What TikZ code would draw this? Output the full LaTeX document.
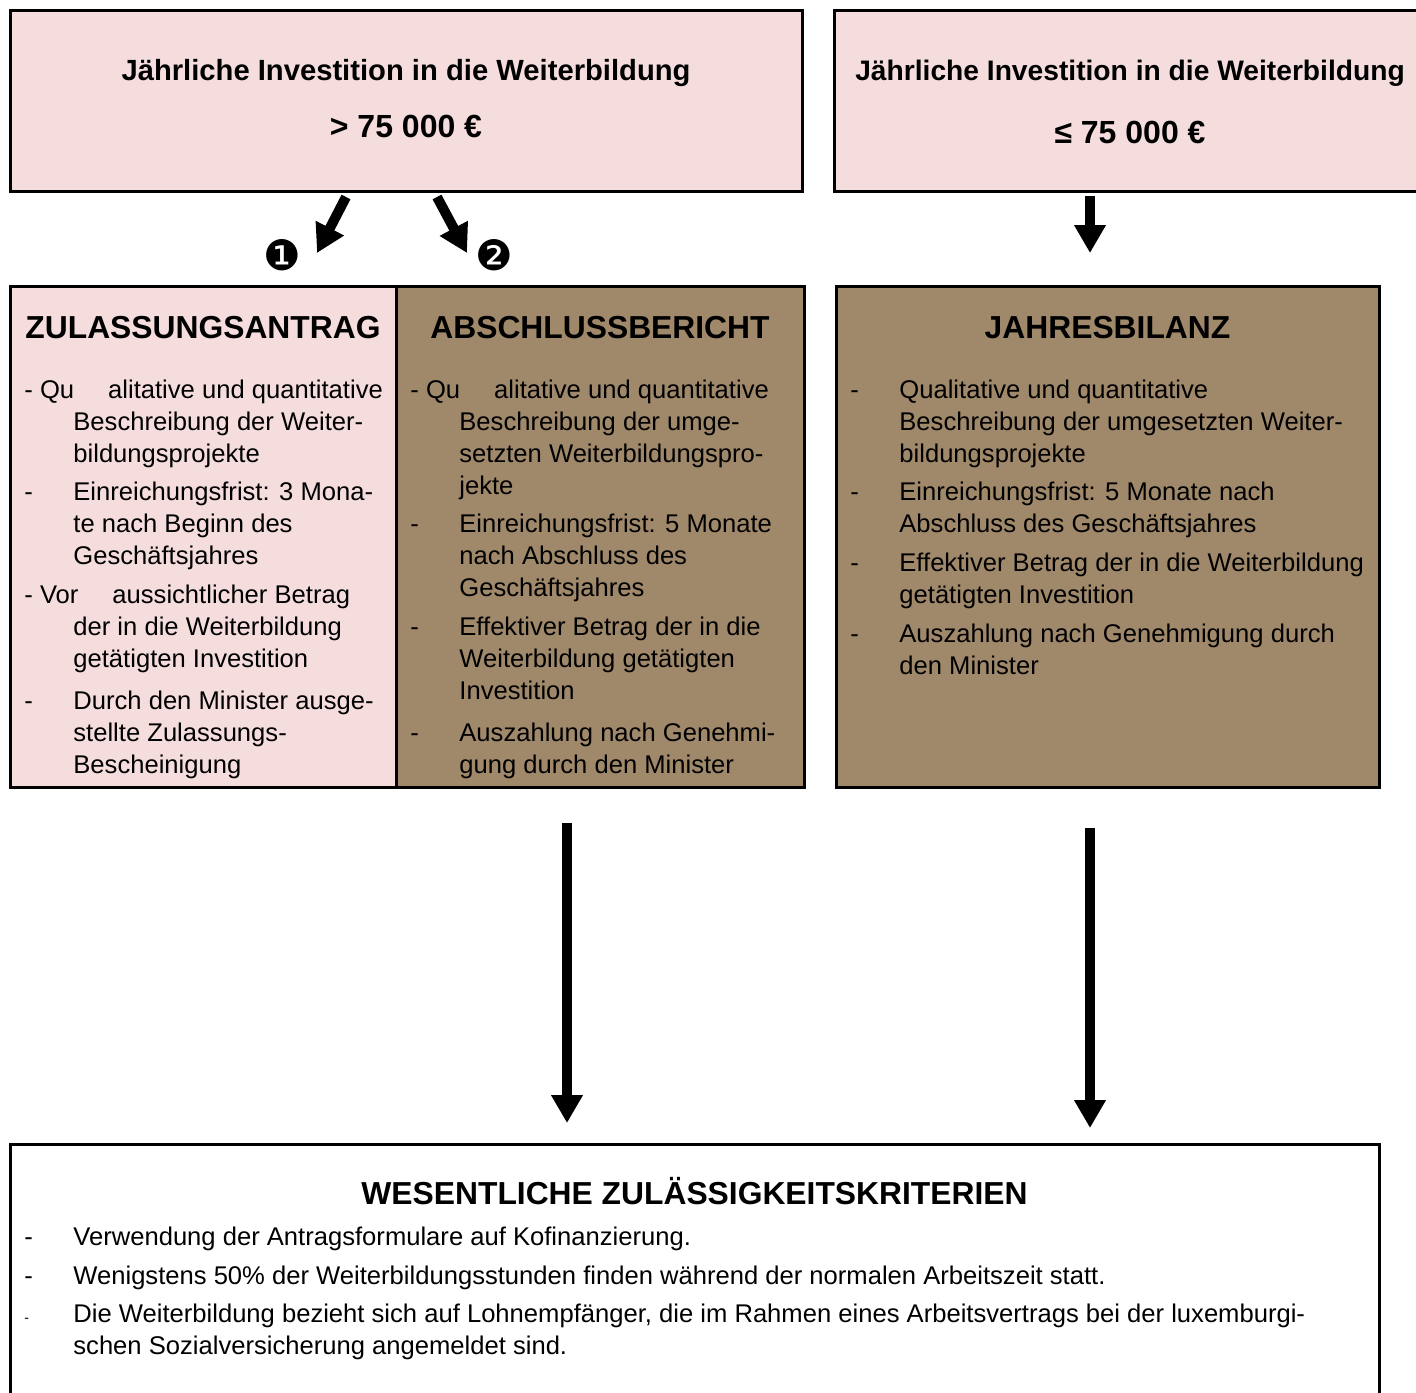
\documentclass[tikz,border=0pt]{standalone}
\usepackage{fontspec}
\setmainfont{Liberation Sans}
\newfontfamily\symbolfont{DejaVu Sans}
\usetikzlibrary{arrows.meta, positioning}
\definecolor{pinkfill}{RGB}{245, 221, 222}
\definecolor{brownfill}{RGB}{160, 136, 106}
\newcommand{\bodyfont}{\fontsize{12.8}{16}\selectfont}
\newcommand{\headfont}{\fontsize{15.9}{19}\selectfont\bfseries}
\newcommand{\qugap}{\hspace{17pt}}

\begin{document}
\begin{tikzpicture}[
        x=0.5pt, y=-0.5pt,
        % Styles
        box/.style={
            rectangle,
            draw=black,
            line width=1.5pt,
            anchor=north west,
            inner sep=0pt,
            outer sep=0pt
        },
        pinkbox/.style={box, fill=pinkfill},
        brownbox/.style={box, fill=brownfill},
        whitebox/.style={box, fill=white},
        title/.style={anchor=base, inner sep=0pt, font=\fontsize{14.6}{17}\selectfont\bfseries},
        value/.style={anchor=base, inner sep=0pt, font=\fontsize{16}{19}\selectfont\bfseries},
        head/.style={anchor=base, inner sep=0pt, font=\headfont},
        body/.style={anchor=north west, inner sep=0pt, font=\bodyfont},
        num/.style={inner sep=0pt, font=\symbolfont\fontsize{21}{21}\selectfont},
        conn/.style={-{Triangle[width=15pt, length=14pt]}, line width=5pt}
    ]

    \useasboundingbox (0,0) rectangle (1416,1392);
    \fill[white] (0,0) rectangle (1416,1392);

    % ==============================
    % 1. INVESTMENT
    % ==============================
    \node[pinkbox, minimum width=396pt, minimum height=90.5pt] (invest_high) at (10,10) {};
    \node[title] (high_title) at (406,80) {Jährliche Investition in die Weiterbildung};
    \node[value] (high_value) at (406,137) {> 75 000 €};

    \node[pinkbox, minimum width=296pt, minimum height=90.5pt] (invest_low) at (834,10) {};
    \node[title, font=\fontsize{14.1}{17}\selectfont\bfseries] (low_title) at (1130,80) {Jährliche Investition in die Weiterbildung};
    \node[value] (low_value) at (1130,143) {≤ 75 000 €};

    % ==============================
    % 2. BRANCHES
    % ==============================
    \coordinate (one_start) at (346,197);
    \coordinate (one_end) at (317,253);
    \coordinate (two_start) at (437,197);
    \coordinate (two_end) at (467,253);
    \coordinate (low_start) at (1090,196);
    \coordinate (low_end) at (1090,253);

    \draw[conn] (one_start) -- (one_end);
    \draw[conn] (two_start) -- (two_end);
    \draw[conn] (low_start) -- (low_end);

    \node[num] (step_one) at (282,255) {❶};
    \node[num] (step_two) at (494,255) {❷};

    % ==============================
    % 3. DOCUMENTS
    % ==============================
    \node[pinkbox, minimum width=193pt, minimum height=250.5pt] (antrag) at (10,286) {};
    \node[brownbox, minimum width=204pt, minimum height=250.5pt, right=0pt of antrag] (bericht) {};
    \node[brownbox, minimum width=271.5pt, minimum height=250.5pt] (bilanz) at (836,286) {};

    \node[head] (antrag_head) at (203,338) {ZULASSUNGSANTRAG};
    \node[head] (bericht_head) at (600,338) {ABSCHLUSSBERICHT};
    \node[head] (bilanz_head) at (1107.5,338) {JAHRESBILANZ};

    \node[body] (antrag_list) at (24,375.6) {%
        \begin{tabular}{@{}p{24.5pt}@{}l@{}}
            \multicolumn{2}{@{}l@{}}{- Qu\qugap alitative und quantitative}\\
            & Beschreibung der Weiter-\\
            & bildungsprojekte\\[3pt]
            - & Einreichungsfrist: 3 Mona-\\
            & te nach Beginn des\\
            & Geschäftsjahres\\[3.5pt]
            \multicolumn{2}{@{}l@{}}{- Vor\qugap aussichtlicher Betrag}\\
            & der in die Weiterbildung\\
            & getätigten Investition\\[5pt]
            - & Durch den Minister ausge-\\
            & stellte Zulassungs-\\
            & Bescheinigung
        \end{tabular}};

    \node[body] (bericht_list) at (410,375.6) {%
        \begin{tabular}{@{}p{24.5pt}@{}l@{}}
            \multicolumn{2}{@{}l@{}}{- Qu\qugap alitative und quantitative}\\
            & Beschreibung der umge-\\
            & setzten Weiterbildungspro-\\
            & jekte\\[3pt]
            - & Einreichungsfrist: 5 Monate\\
            & nach Abschluss des\\
            & Geschäftsjahres\\[3.5pt]
            - & Effektiver Betrag der in die\\
            & Weiterbildung getätigten\\
            & Investition\\[5pt]
            - & Auszahlung nach Genehmi-\\
            & gung durch den Minister
        \end{tabular}};

    \node[body] (bilanz_list) at (850,375.6) {%
        \begin{tabular}{@{}p{24.5pt}@{}l@{}}
            - & Qualitative und quantitative\\
            & Beschreibung der umgesetzten Weiter-\\
            & bildungsprojekte\\[3pt]
            - & Einreichungsfrist: 5 Monate nach\\
            & Abschluss des Geschäftsjahres\\[3.5pt]
            - & Effektiver Betrag der in die Weiterbildung\\
            & getätigten Investition\\[3.5pt]
            - & Auszahlung nach Genehmigung durch\\
            & den Minister
        \end{tabular}};

    % ==============================
    % 4. CRITERIA
    % ==============================
    \coordinate (bericht_start) at (567,823);
    \coordinate (bericht_end) at (567,1123);
    \coordinate (bilanz_start) at (1090,828);
    \coordinate (bilanz_end) at (1090,1128);

    \draw[conn] (bericht_start) -- (bericht_end);
    \draw[conn] (bilanz_start) -- (bilanz_end);

    \node[whitebox, minimum width=684.5pt, minimum height=140pt] (kriterien) at (10,1144) {};
    \node[head] (kriterien_head) at (694.5,1204) {WESENTLICHE ZULÄSSIGKEITSKRITERIEN};

    \node[body] (kriterien_list) at (24,1223) {%
        \begin{tabular}{@{}p{24.5pt}@{}l@{}}
            - & Verwendung der Antragsformulare auf Kofinanzierung.\\[3.5pt]
            - & Wenigstens 50\% der Weiterbildungsstunden finden während der normalen Arbeitszeit statt.\\[3pt]
            {\fontsize{7}{8}\selectfont -} & Die Weiterbildung bezieht sich auf Lohnempfänger, die im Rahmen eines Arbeitsvertrags bei der luxemburgi-\\
            & schen Sozialversicherung angemeldet sind.
        \end{tabular}};

\end{tikzpicture}
\end{document}
